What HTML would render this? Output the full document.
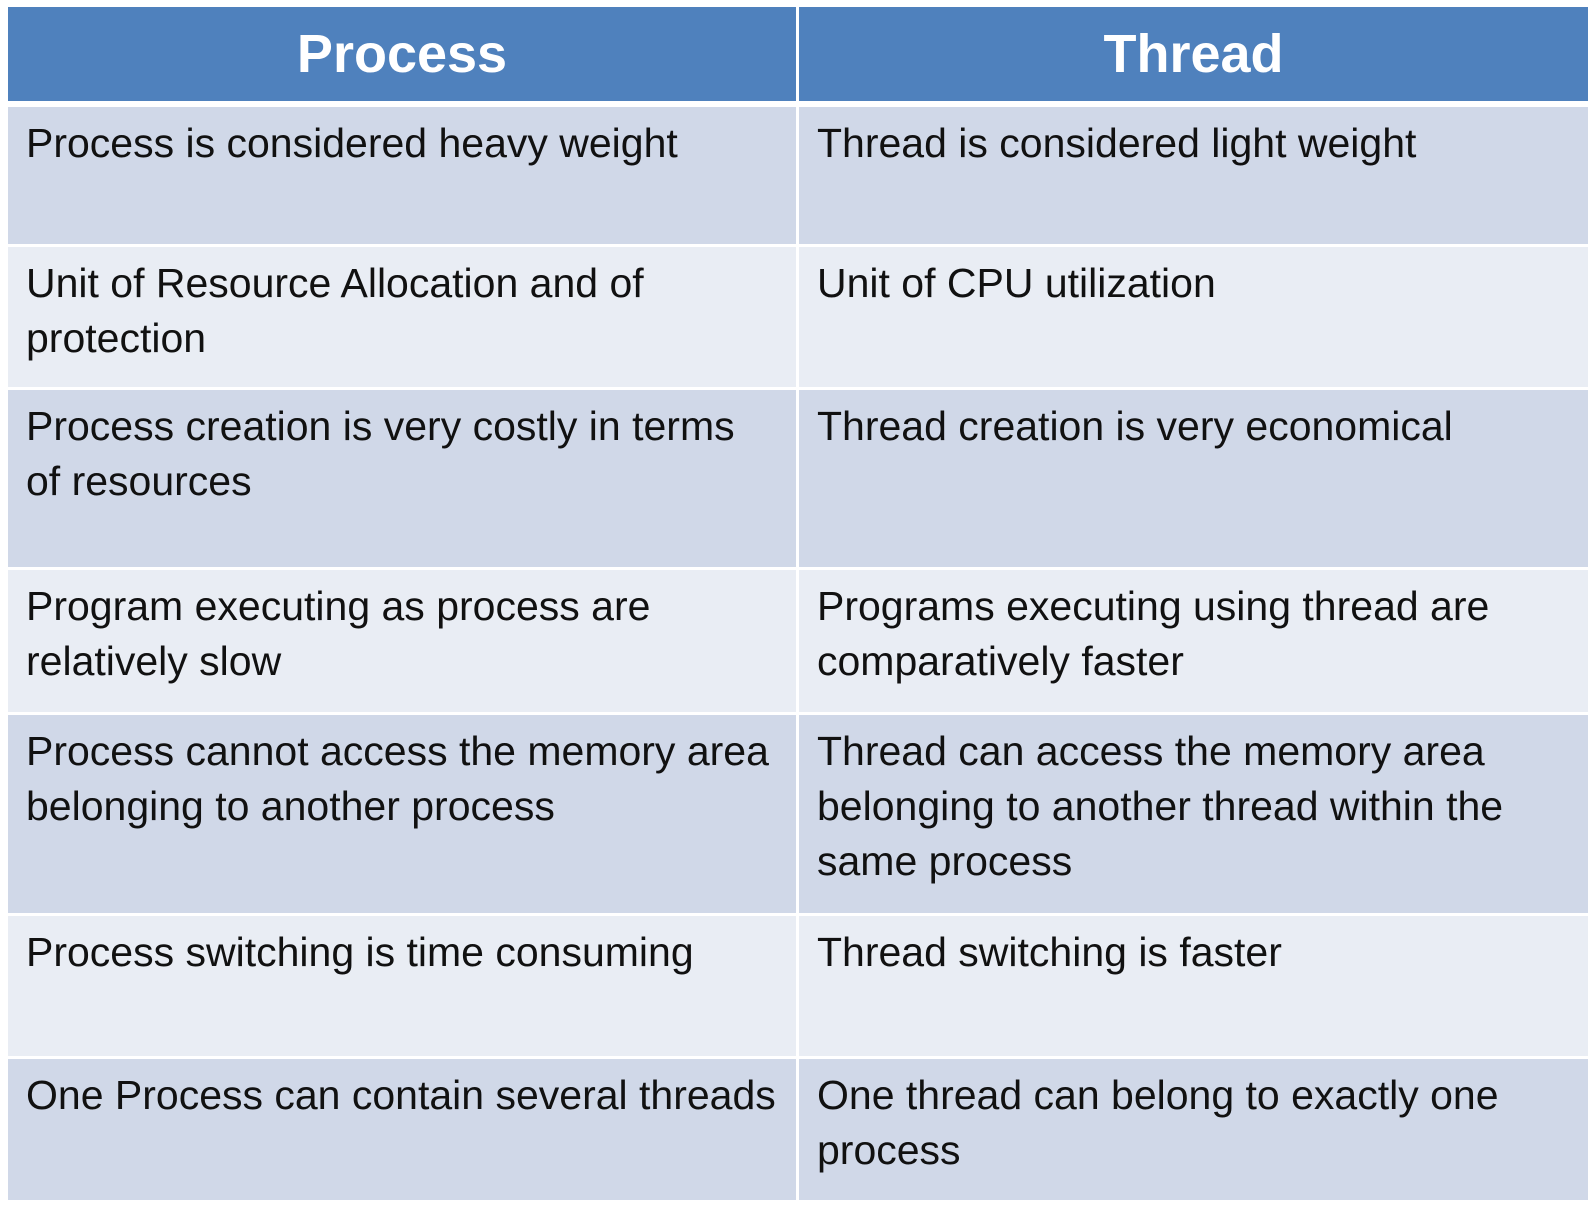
<!DOCTYPE html>
<html><head><style>
body{margin:0;width:1594px;height:1206px;background:#fff;position:relative;overflow:hidden;font-family:"Liberation Sans",sans-serif;}
.c{position:absolute;box-sizing:border-box;padding:9px 0 0 18px;font-size:41px;line-height:55px;color:#111;white-space:nowrap;}
.h{position:absolute;background:#4f81bd;color:#fff;font-weight:bold;font-size:54px;text-align:center;line-height:94px;top:7px;height:94px;}
.d{background:#d0d8e8}.l{background:#e9edf4}
</style></head><body>
<div class="h" style="left:8px;width:788px">Process</div>
<div class="h" style="left:799px;width:789px">Thread</div>

<div class="c d" style="left:8px;width:788px;top:107px;height:137px">Process is considered heavy weight</div>
<div class="c d" style="left:799px;width:789px;top:107px;height:137px">Thread is considered light weight</div>

<div class="c l" style="left:8px;width:788px;top:247px;height:140px">Unit of Resource Allocation and of<br>protection</div>
<div class="c l" style="left:799px;width:789px;top:247px;height:140px">Unit of CPU utilization</div>

<div class="c d" style="left:8px;width:788px;top:390px;height:177px">Process creation is very costly in terms<br>of resources</div>
<div class="c d" style="left:799px;width:789px;top:390px;height:177px">Thread creation is very economical</div>

<div class="c l" style="left:8px;width:788px;top:570px;height:142px">Program executing as process are<br>relatively slow</div>
<div class="c l" style="left:799px;width:789px;top:570px;height:142px">Programs executing using thread are<br>comparatively faster</div>

<div class="c d" style="left:8px;width:788px;top:715px;height:198px">Process cannot access the memory area<br>belonging to another process</div>
<div class="c d" style="left:799px;width:789px;top:715px;height:198px">Thread can access the memory area<br>belonging to another thread within the<br>same process</div>

<div class="c l" style="left:8px;width:788px;top:916px;height:140px">Process switching is time consuming</div>
<div class="c l" style="left:799px;width:789px;top:916px;height:140px">Thread switching is faster</div>

<div class="c d" style="left:8px;width:788px;top:1059px;height:141px">One Process can contain several threads</div>
<div class="c d" style="left:799px;width:789px;top:1059px;height:141px">One thread can belong to exactly one<br>process</div>
</body></html>
